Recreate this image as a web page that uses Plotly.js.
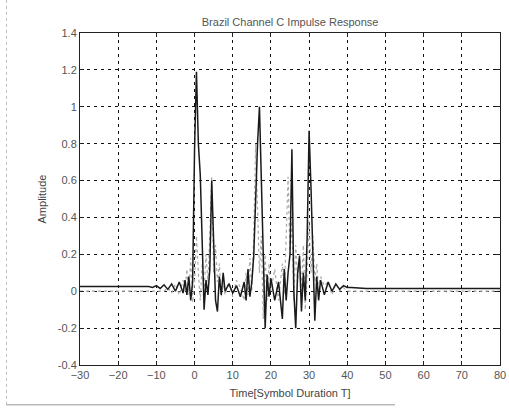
<!DOCTYPE html>
<html>
<head>
<meta charset="utf-8">
<script src="https://cdn.plot.ly/plotly-3.0.1.min.js"></script>
<style>html,body{margin:0;padding:0;background:#fff;}#chart{width:509px;height:410px;}</style>
</head>
<body>
<div id="chart"></div>
<script>
// Time axis (symbol durations T)
const time = [-30, -20, -12, -11, -10, -9, -8, -7, -6, -5, -4, -3, -2.5, -2, -1.5, -1, -0.5, 0, 0.5, 1, 1.5, 2, 2.5, 3, 3.5, 4, 4.5, 5, 5.5, 6, 6.5, 7, 7.5, 8, 9, 10, 11, 12, 13, 13.5, 14, 14.5, 15, 15.5, 16, 16.5, 17, 17.5, 18, 18.5, 19, 19.5, 20, 21, 22, 23, 23.5, 24, 24.5, 25, 25.5, 26, 26.5, 27, 27.5, 28, 28.5, 29, 29.5, 30, 30.5, 31, 31.5, 32, 32.5, 33, 34, 35, 36, 37, 38, 39, 40, 41, 45, 60, 80];

// Real part (dark solid trace)
const realPart = [0.025, 0.025, 0.025, 0.02, 0.03, 0.015, 0.035, 0.01, 0.04, 0.0, 0.05, -0.01, 0.06, -0.02, 0.08, -0.05, 0.05, 0.77, 1.19, 0.8, 0.63, 0.27, -0.1, 0.06, -0.02, 0.12, 0.6, 0.27, -0.05, -0.11, 0.08, -0.02, 0.1, 0.0, 0.04, -0.01, 0.03, -0.03, 0.05, -0.05, 0.12, -0.03, 0.05, 0.19, 0.53, 0.8, 1.0, 0.6, 0.15, -0.2, 0.09, -0.03, 0.07, -0.05, 0.05, -0.15, 0.12, -0.05, 0.1, 0.2, 0.77, 0.0, -0.2, 0.1, 0.19, -0.11, 0.1, -0.05, 0.3, 0.87, 0.56, 0.2, -0.16, 0.08, -0.05, 0.06, -0.02, 0.05, 0.0, 0.04, 0.01, 0.03, 0.02, 0.02, 0.015, 0.015, 0.015];

// Imaginary part (grey dotted trace)
const imagPart = [0.0, 0.0, 0.0, 0.0, 0.0, 0.0, 0.0, 0.02, -0.01, 0.04, -0.02, 0.06, 0.0, 0.12, -0.02, 0.18, -0.06, 0.05, 0.3, 0.1, -0.05, 0.15, 0.0, 0.2, 0.05, 0.3, 0.62, 0.1, 0.25, 0.05, 0.15, -0.03, 0.05, -0.02, 0.05, -0.03, 0.06, 0.02, -0.05, 0.1, -0.02, 0.18, 0.0, 0.3, 0.8, 0.45, 0.1, 0.3, -0.15, 0.2, -0.05, 0.15, 0.0, 0.12, -0.05, 0.15, -0.02, 0.3, 0.62, 0.2, 0.38, -0.05, 0.25, 0.05, 0.2, 0.0, 0.25, -0.1, 0.1, 0.38, 0.1, 0.3, 0.05, 0.15, 0.0, 0.08, 0.03, 0.05, -0.02, 0.04, 0.0, 0.02, 0.0, 0.0, 0.0, 0.0, 0.0];

const xTicks = [-30, -20, -10, 0, 10, 20, 30, 40, 50, 60, 70, 80];
const yTicks = [-0.4, -0.2, 0, 0.2, 0.4, 0.6, 0.8, 1, 1.2, 1.4];
const yTickText = ['-0.4', '-0.2', '0', '0.2', '0.4', '0.6', '0.8', '1', '1.2', '1.4'];

const traces = [
  {x: time, y: imagPart, type: 'scatter', mode: 'lines', name: 'Imag',
   line: {color: '#a8a8a8', width: 1.2, dash: 'dot'}},
  {x: time, y: realPart, type: 'scatter', mode: 'lines', name: 'Real',
   line: {color: '#1a1a1a', width: 1.5}}
];

const axisCommon = {
  showline: true, mirror: 'ticks', linecolor: '#222', linewidth: 1,
  ticks: 'inside', ticklen: 4, tickcolor: '#222',
  showgrid: true, gridcolor: '#111', gridwidth: 1, griddash: '3px,4px',
  zeroline: false,
  tickfont: {family: 'Liberation Sans, Arial, sans-serif', size: 11, color: '#555'}
};

const layout = {
  width: 509, height: 410,
  margin: {l: 80, r: 9, t: 33, b: 45},
  paper_bgcolor: '#fff', plot_bgcolor: '#fff',
  showlegend: false,
  title: {text: 'Brazil Channel C Impulse Response', x: 0.57, xanchor: 'center', y: 0.945, yanchor: 'middle',
          font: {family: 'Liberation Sans, Arial, sans-serif', size: 11, color: '#555'}},
  xaxis: Object.assign({}, axisCommon, {
    range: [-30, 80], tickvals: xTicks,
    title: {text: 'Time[Symbol Duration T]', standoff: 9,
            font: {family: 'Liberation Sans, Arial, sans-serif', size: 11, color: '#444'}}
  }),
  yaxis: Object.assign({}, axisCommon, {
    range: [-0.4, 1.4], tickvals: yTicks, ticktext: yTickText,
    title: {text: 'Amplitude', standoff: 8,
            font: {family: 'Liberation Sans, Arial, sans-serif', size: 11, color: '#444'}}
  }),
  shapes: [
    {type: 'line', xref: 'paper', yref: 'paper', x0: -0.175, x1: -0.175, y0: -0.12, y1: 1.1,
     line: {color: '#bbb', width: 1, dash: 'dot'}},
    {type: 'line', xref: 'paper', yref: 'paper', x0: -0.175, x1: 0.75, y0: -0.12, y1: -0.12,
     line: {color: '#999', width: 1}}
  ]
};

Plotly.newPlot('chart', traces, layout, {displayModeBar: false, staticPlot: true});
</script>
</body>
</html>
